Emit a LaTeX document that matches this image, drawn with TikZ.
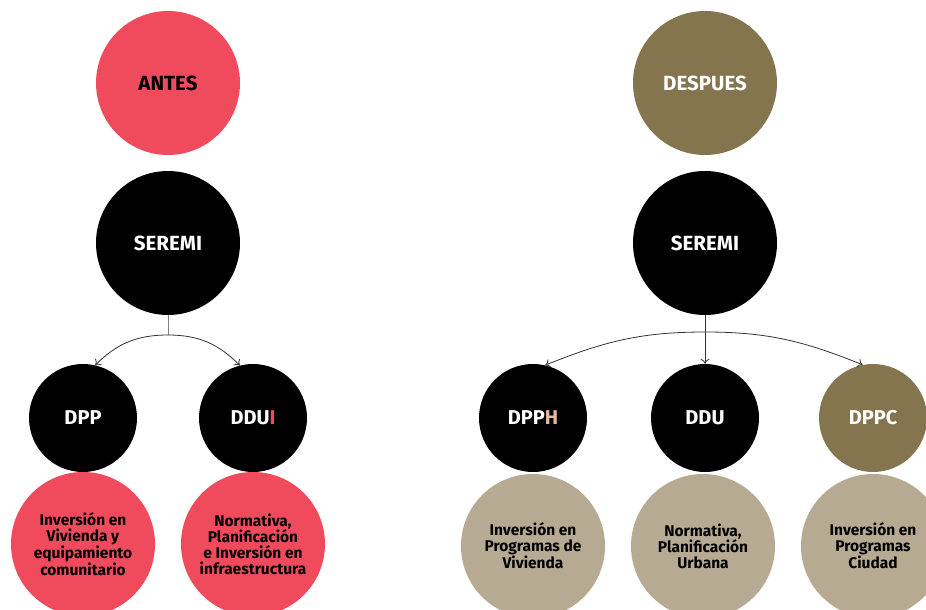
\documentclass[tikz,border=0pt]{standalone}
\usepackage{fontspec}
\setmainfont{Fira Sans}
\usetikzlibrary{arrows.meta}
\definecolor{cred}{HTML}{EF4B5D}
\definecolor{colive}{HTML}{85754E}
\definecolor{cbeige}{HTML}{B6AA92}
\definecolor{cpeach}{HTML}{E6B89C}
\definecolor{cline}{HTML}{333333}
\begin{document}
\begin{tikzpicture}[x=1pt,y=-1pt,
  bigc/.style={circle,inner sep=0pt,minimum size=144pt,font=\bfseries\fontsize{20.5}{24}\selectfont},
  midc/.style={circle,inner sep=0pt,minimum size=108pt,font=\bfseries\fontsize{20}{24}\selectfont},
  lowc/.style={circle,inner sep=0pt,minimum size=144pt,align=center,font=\bfseries\fontsize{15.5}{16}\selectfont},
  conn/.style={draw=cline,line width=0.8pt,-{To[length=5pt,width=9pt]}},
  stem/.style={draw=gray,line width=1pt}]
\useasboundingbox (0,0) rectangle (926,610);
\clip (0,0) rectangle (926,610);
% left side
\node[bigc,fill=cred,text=black] (antes) at (168,83) {ANTES};
\node[bigc,fill=black,text=white] (ser1) at (168,243) {SEREMI};
\node[midc,fill=black,text=white] (dpp) at (83,418) {DPP};
\node[midc,fill=black,text=white] (ddui) at (253,418) {DDU\textcolor{cred}{I}};
\node[lowc,fill=cred,text=black] (b1) at (83,544) {Inversión en\\Vivienda y\\equipamiento\\comunitario};
\node[lowc,fill=cred,text=black] (b2) at (253,544) {Normativa,\\Planificación\\e Inversión en\\infraestructura};
\coordinate (j1) at (168,335);
\draw[stem] (ser1.south) -- (j1);
\draw[conn] (j1) to[out=180,in=45] (dpp.77);
\draw[conn] (j1) to[out=0,in=135] (ddui.104);
% right side
\node[bigc,fill=colive,text=white] (desp) at (705,83) {DESPUES};
\node[bigc,fill=black,text=white] (ser2) at (705,243) {SEREMI};
\node[midc,fill=black,text=white] (dpph) at (533,418) {DPP\textcolor{cpeach}{H}};
\node[midc,fill=black,text=white] (ddu) at (705,418) {DDU};
\node[midc,fill=colive,text=white] (dppc) at (873,418) {DPPC};
\node[lowc,fill=cbeige,text=black] (b3) at (533,546) {Inversión en\\Programas de\\Vivienda};
\node[lowc,fill=cbeige,text=black] (b4) at (703,546) {Normativa,\\Planificación\\Urbana};
\node[lowc,fill=cbeige,text=black] (b5) at (873,546) {Inversión en\\Programas\\Ciudad};
\coordinate (j2) at (705,332);
\draw[conn] (ser2.south) -- (ddu.north);
\draw[conn] (j2) to[out=180,in=22] (dpph.77);
\draw[conn] (j2) to[out=0,in=158] (dppc.101);
\end{tikzpicture}
\end{document}
